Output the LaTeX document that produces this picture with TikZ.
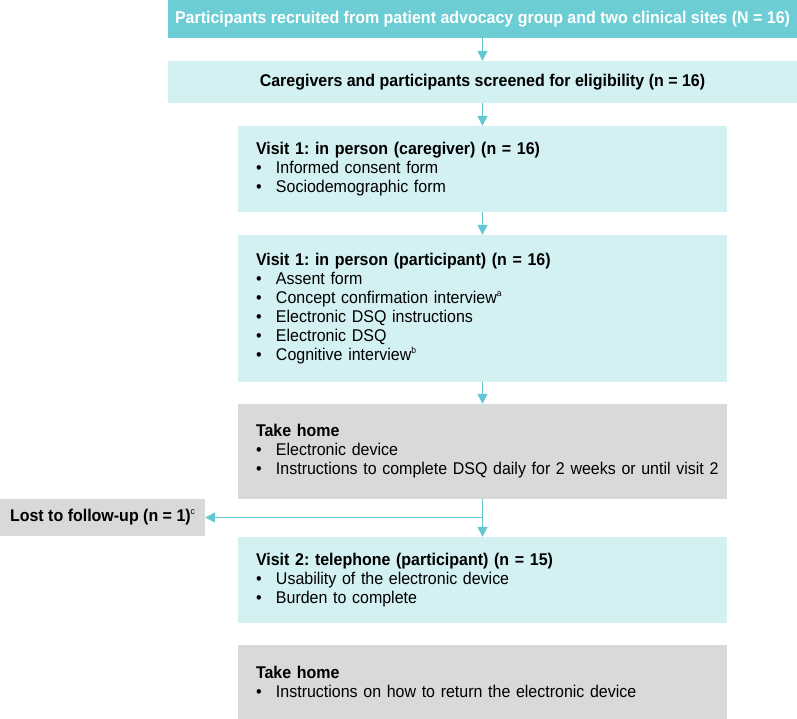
\documentclass[tikz,border=0pt]{standalone}
\usepackage{fontspec}
\setmainfont{Liberation Sans}[FakeStretch=0.94]
\usetikzlibrary{arrows.meta}
\definecolor{tealbox}{HTML}{6CCDD5}
\definecolor{lightbox}{HTML}{D3F0F3}
\definecolor{graybox}{HTML}{D9D9D9}
\definecolor{arrcol}{HTML}{62C7D0}
\newcommand\bitem[1]{\makebox[20pt][l]{\textbullet}\mbox{#1}}
\newcommand\supmark[1]{\raisebox{0.42em}{\fontsize{9}{9}\selectfont #1}}
\frenchspacing
\begin{document}
\frenchspacing
\begin{tikzpicture}[x=1pt,y=-1pt,
  flowbox/.style={inner xsep=18pt, inner ysep=0pt, align=left, text width=453pt,
    minimum height=#1, font=\fontsize{17}{19}\selectfont\frenchspacing, anchor=center},
  widebox/.style={inner sep=0pt, minimum width=629pt, minimum height=#1,
    font=\fontsize{17}{19}\selectfont\bfseries, anchor=center},
  conn/.style={draw=arrcol, line width=1.4pt, -{Triangle[width=10pt,length=10pt]}}]
\useasboundingbox (0,0) rectangle (797,719);
\node[widebox=38pt, fill=tealbox, text=white] (b1) at (482.5,19) {Participants recruited from patient advocacy group and two clinical sites (N = 16)};
\node[widebox=42pt, fill=lightbox] (b2) at (482.5,82) {Caregivers and participants screened for eligibility (n = 16)};
\node[flowbox=86pt, fill=lightbox] (b3) at (482.5,169) {\textbf{Visit 1: in person (caregiver) (n = 16)}\\
\bitem{Informed consent form}\\
\bitem{Sociodemographic form}};
\node[flowbox=147pt, fill=lightbox] (b4) at (482.5,308.5) {\textbf{Visit 1: in person (participant) (n = 16)}\\
\bitem{Assent form}\\
\bitem{Concept confirmation interview\supmark{a}}\\
\bitem{Electronic DSQ instructions}\\
\bitem{Electronic DSQ}\\
\bitem{Cognitive interview\supmark{b}}};
\node[flowbox=95pt, fill=graybox] (b5) at (482.5,451.5) {\textbf{Take home}\\
\bitem{Electronic device}\\
\bitem{Instructions to complete DSQ daily for 2 weeks or until visit 2}};
\node[inner sep=0pt, minimum width=205pt, minimum height=37pt, fill=graybox,
  font=\fontsize{17}{19}\selectfont, anchor=center] (lost) at (102.5,517.5) {\textbf{Lost to follow-up (n = 1)}\supmark{c}};
\node[flowbox=86pt, fill=lightbox] (b6) at (482.5,580) {\textbf{Visit 2: telephone (participant) (n = 15)}\\
\bitem{Usability of the electronic device}\\
\bitem{Burden to complete}};
\node[flowbox=74pt, fill=graybox] (b7) at (482.5,682) {\textbf{Take home}\\
\bitem{Instructions on how to return the electronic device}};
\coordinate (br) at (b5.south |- lost.east);
\draw[conn] (b1.south) -- (b2.north);
\draw[conn] (b2.south) -- (b3.north);
\draw[conn] (b3.south) -- (b4.north);
\draw[conn] (b4.south) -- (b5.north);
\draw[conn] (b5.south) -- (b6.north);
\draw[conn] (br) -- (lost.east);
\end{tikzpicture}
\end{document}
